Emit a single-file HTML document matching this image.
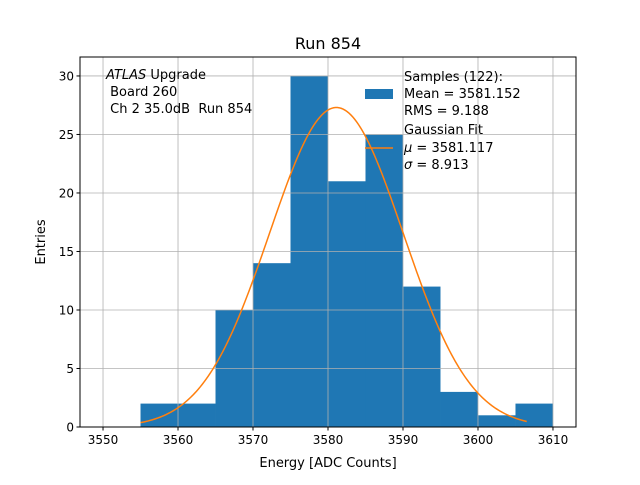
<!DOCTYPE html>
<html><head><meta charset="utf-8"><style>
body{margin:0;background:#fff;font-family:"Liberation Sans","DejaVu Sans",sans-serif}
svg text{font-family:"DejaVu Sans","Liberation Sans",sans-serif}
</style></head><body>
<svg id="chart" width="640" height="480" xmlns="http://www.w3.org/2000/svg">
<rect width="640" height="480" fill="#fff"/>
<text x="328" y="49" font-size="16" text-anchor="middle">Run 854</text>
<g id="bars"></g>
<g id="grid"></g>
<g id="curve"></g>
<rect x="80" y="57" width="496" height="370" fill="none" stroke="#000" stroke-width="1"/>
<g id="ticks" font-size="12"></g>
<text x="328" y="467" font-size="13" text-anchor="middle">Energy [ADC Counts]</text>
<text x="45" y="242" font-size="13" text-anchor="middle" transform="rotate(-90 45 242)">Entries</text>
<g font-size="13" xml:space="preserve">
<text x="106" y="79"><tspan font-style="italic">ATLAS</tspan> Upgrade</text>
<text x="106" y="96" xml:space="preserve"> Board 260</text>
<text x="106" y="113" xml:space="preserve"> Ch 2 35.0dB  Run 854</text>
</g>
<g font-size="13">
<rect x="365" y="89" width="28" height="10" fill="#1f77b4"/>
<text x="404" y="81">Samples (122):</text>
<text x="404" y="98">Mean = 3581.152</text>
<text x="404" y="115">RMS = 9.188</text>
<line x1="365" y1="148" x2="393" y2="148" stroke="#ff7f0e" stroke-width="1.5"/>
<text x="404" y="134">Gaussian Fit</text>
<text x="404" y="152"><tspan font-style="italic">μ</tspan> = 3581.117</text>
<text x="404" y="169"><tspan font-style="italic">σ</tspan> = 8.913</text>
</g>
</svg>
<script>
const binEdges=[3555,3560,3565,3570,3575,3580,3585,3590,3595,3600,3605,3610];
const counts=[2,2,10,14,30,21,25,12,3,1,2];
const xTicks=[3550,3560,3570,3580,3590,3600,3610];
const yTicks=[0,5,10,15,20,25,30];
const fitMu=[3581.117];
const fitSigma=[8.913];
const fitRange=[3555,3606.5];
const NS="http://www.w3.org/2000/svg";
const X0=80,X1=576,Y0=427,Y1=57,xmin=3546.93,xmax=3613.07,ymin=0,ymax=31.62;
const sx=v=>X0+(v-xmin)/(xmax-xmin)*(X1-X0);
const sy=v=>Y0-(v-ymin)/(ymax-ymin)*(Y0-Y1);
function mk(t,a,p){const e=document.createElementNS(NS,t);for(const k in a)e.setAttribute(k,a[k]);p.appendChild(e);return e;}
const grid=document.getElementById('grid'),bars=document.getElementById('bars'),ticks=document.getElementById('ticks'),curve=document.getElementById('curve');
counts.forEach((c,i)=>{const x=sx(binEdges[i]),x2=sx(binEdges[i+1]);
const r=mk('rect',{x:x,y:sy(c),width:x2-x,height:sy(0)-sy(c),fill:'#1f77b4'},bars);

});
xTicks.forEach(v=>{const x=sx(v);
const g=mk('line',{x1:x,x2:x,y1:Y1,y2:Y0,stroke:'#b0b0b0','stroke-width':0.8},grid);


mk('line',{x1:x,x2:x,y1:Y0,y2:Y0+3.5,stroke:'#000'},ticks);
const t=mk('text',{x:x,y:Y0+17,'text-anchor':'middle'},ticks);t.textContent=v;

});
yTicks.forEach(v=>{const y=sy(v);
const g=mk('line',{x1:X0,x2:X1,y1:y,y2:y,stroke:'#b0b0b0','stroke-width':0.8},grid);


mk('line',{x1:X0-3.5,x2:X0,y1:y,y2:y,stroke:'#000'},ticks);
const t=mk('text',{x:X0-6,y:y+4.5,'text-anchor':'end'},ticks);t.textContent=v;

});
const total=counts.reduce((a,b)=>a+b,0),bw=binEdges[1]-binEdges[0];
const mu=fitMu[0],sg=fitSigma[0],A=total*bw/(Math.sqrt(2*Math.PI)*sg);
let d='';for(let i=0;i<=200;i++){const v=fitRange[0]+(fitRange[1]-fitRange[0])*i/200;
const f=A*Math.exp(-0.5*((v-mu)/sg)**2);d+=(i?'L':'M')+sx(v).toFixed(2)+' '+sy(f).toFixed(2);}
const p=mk('path',{d:d,fill:'none',stroke:'#ff7f0e','stroke-width':1.5},curve);


</script>
</body></html>
